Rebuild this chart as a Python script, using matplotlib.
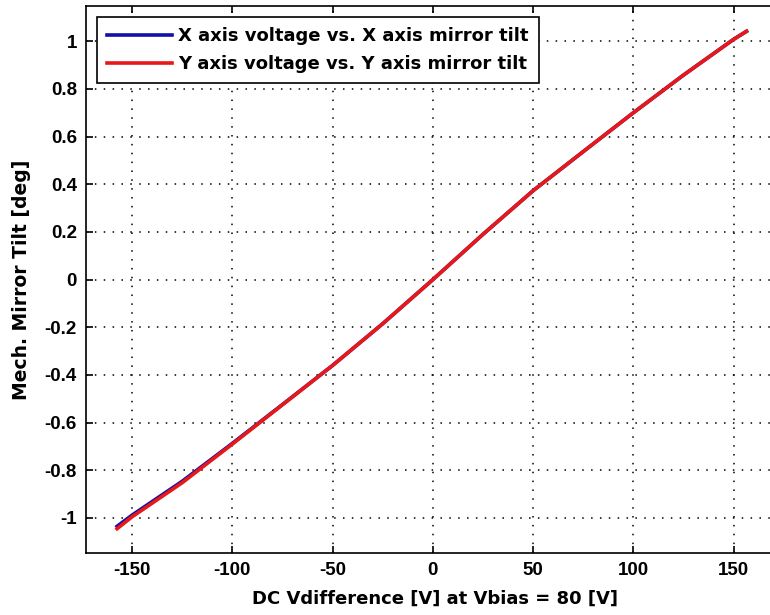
import numpy as np
import matplotlib.pyplot as plt

plt.rcParams['font.family'] = ['Liberation Sans', 'DejaVu Sans']
plt.rcParams['font.weight'] = 'bold'
plt.rcParams['axes.unicode_minus'] = False

# voltage difference [V] and mirror tilt [deg]
v_x = [-157.5, -150, -125, -100, -75, -50, -25, 0, 25, 50, 75, 100, 125, 150, 156.5]
tilt_x = [-1.035, -0.988, -0.846, -0.687, -0.524, -0.36, -0.185, 0.0, 0.19, 0.373, 0.537, 0.700, 0.858, 1.008, 1.042]
v_y = [-157.5, -150, -125, -100, -75, -50, -25, 0, 25, 50, 75, 100, 125, 150, 156.5]
tilt_y = [-1.045, -0.995, -0.852, -0.690, -0.525, -0.36, -0.185, 0.0, 0.19, 0.373, 0.537, 0.700, 0.858, 1.008, 1.042]

xticks = [-150, -100, -50, 0, 50, 100, 150]
yticks = [-1, -0.8, -0.6, -0.4, -0.2, 0, 0.2, 0.4, 0.6, 0.8, 1]
ytick_labels = ['-1', '-0.8', '-0.6', '-0.4', '-0.2', '0', '0.2', '0.4', '0.6', '0.8', '1']

fig = plt.figure(figsize=(7.7, 6.15), dpi=100)
ax = fig.add_axes([0.1117, 0.1008, 0.906, 0.889])

ax.plot(v_x, tilt_x, color='#1010a8', lw=2.6, label='X axis voltage vs. X axis mirror tilt')
ax.plot(v_y, tilt_y, color='#e81818', lw=2.6, label='Y axis voltage vs. Y axis mirror tilt')

ax.set_xlim(-173, 175)
ax.set_ylim(-1.147, 1.147)
ax.set_xticks(xticks)
ax.set_yticks(yticks)
ax.set_yticklabels(ytick_labels)
ax.tick_params(direction='in', length=5, width=1.2, labelsize=13.5, pad=6.5,
               top=True, right=True)
ax.grid(True, color='black', linestyle=(0, (1, 4.8)), linewidth=1.1)
for s in ax.spines.values():
    s.set_linewidth(1.2)

ax.set_xlabel('DC Vdifference [V] at Vbias = 80 [V]', fontsize=13, fontweight='bold',
              family='DejaVu Sans', labelpad=8)
ax.set_ylabel('Mech. Mirror Tilt [deg]', fontsize=13.5, fontweight='bold',
              family='DejaVu Sans', labelpad=10)

leg = ax.legend(loc='upper left', prop={'family': 'DejaVu Sans', 'weight': 'bold', 'size': 13},
                frameon=True, fancybox=False, edgecolor='black', framealpha=1,
                handlelength=3.6, borderaxespad=0.6, borderpad=0.55,
                labelspacing=0.55, handletextpad=0.35)
leg.get_frame().set_linewidth(1.2)

fig.savefig('out.png', dpi=100)
